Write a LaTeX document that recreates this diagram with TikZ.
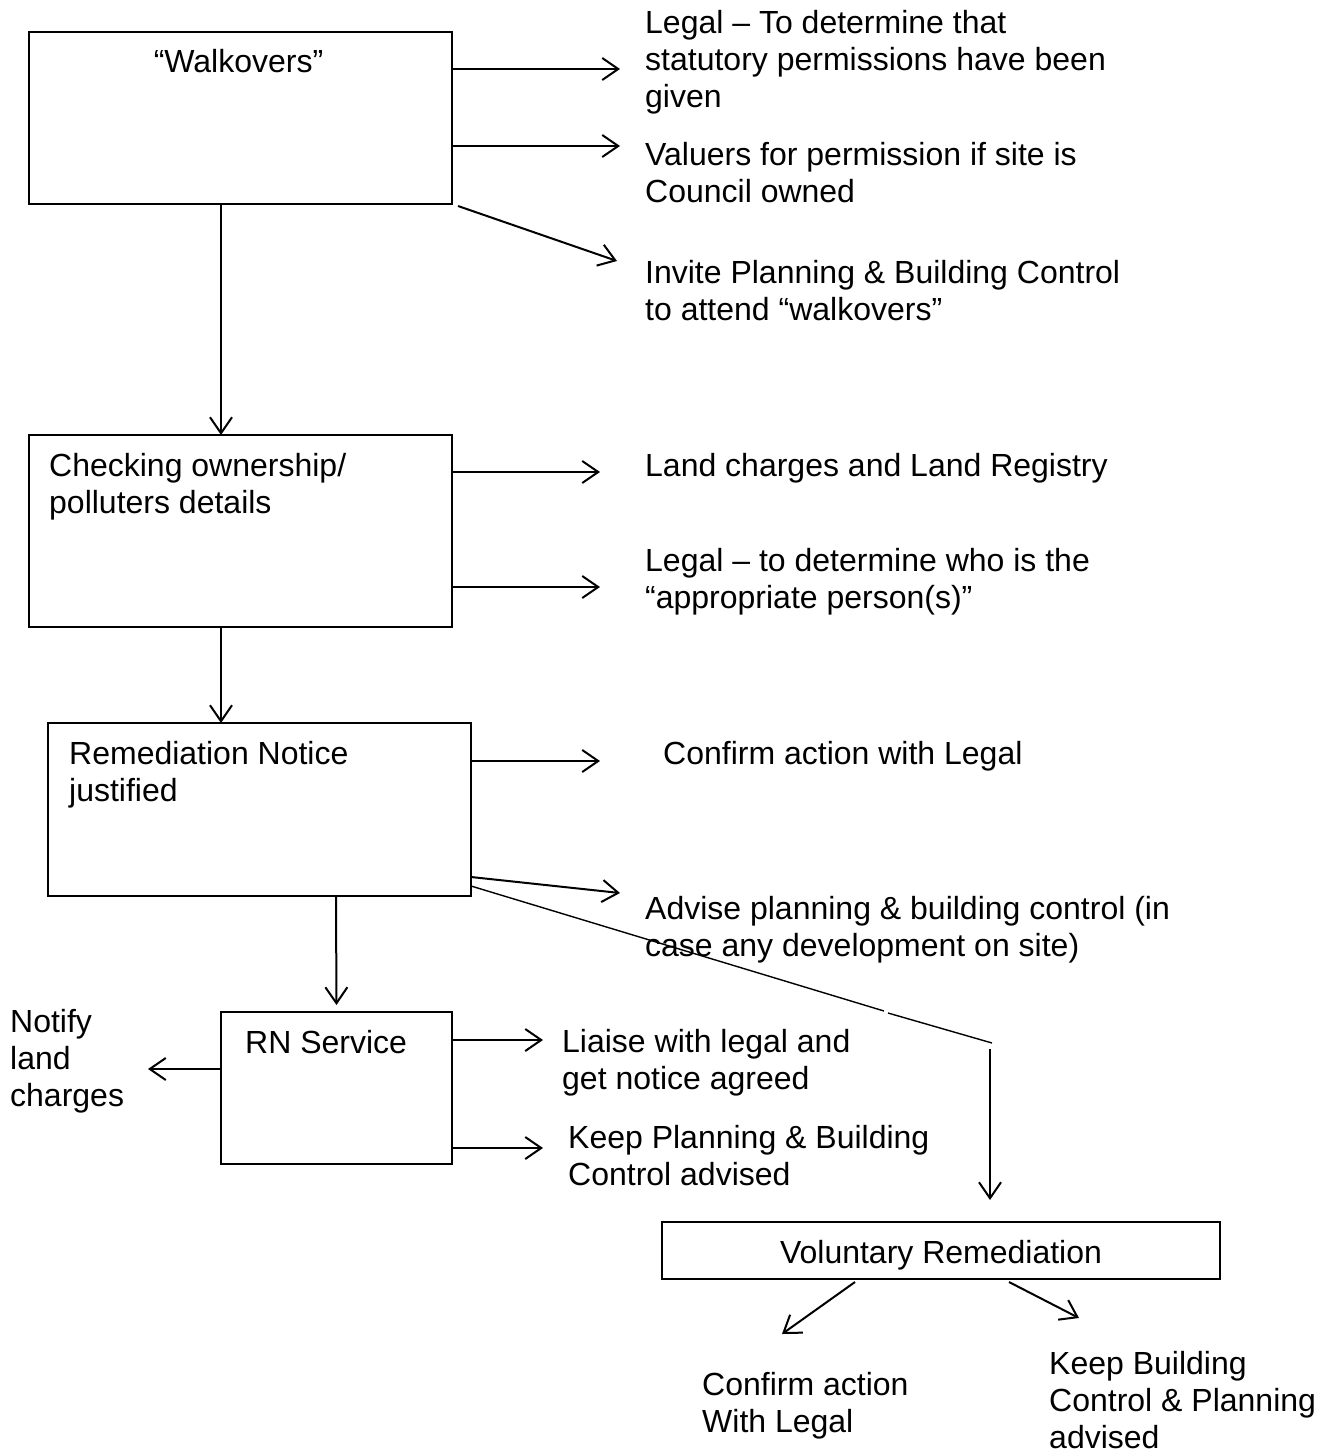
\documentclass[tikz,border=0pt]{standalone}
\usepackage{fontspec}
\setmainfont{Liberation Sans}
\usetikzlibrary{arrows.meta,calc}
\begin{document}
\begin{tikzpicture}[x=1pt,y=-1pt,
  box/.style={draw, line width=2pt, inner sep=0pt, outer sep=0pt},
  arr/.style={line width=2pt, -{Straight Barb[length=16pt,width=22pt,line width=2pt]}},
  txt/.style={anchor=base west, inner sep=0pt, align=left, font=\fontsize{32}{37}\selectfont},
  thinline/.style={line width=1.4pt}]
\useasboundingbox (0,0) rectangle (1333,1454);
\fill[white] (0,0) rectangle (1333,1454);

% boxes
\node[box, minimum width=423pt, minimum height=172pt] (b1) at (240.5,118) {};
\node[box, minimum width=423pt, minimum height=192pt] (b2) at (240.5,531) {};
\node[box, minimum width=423pt, minimum height=173pt] (b3) at (259.5,809.5) {};
\node[box, minimum width=231pt, minimum height=152pt] (b4) at (336.5,1088) {};
\node[box, minimum width=558pt, minimum height=57pt] (b5) at (941,1250.5) {};

% box texts (anchor = baseline of last line)
\node[txt, anchor=base] (w1) at (238.5,72) {“Walkovers”};
\node[txt] (w2) at (49,513) {Checking ownership/\\polluters details};
\node[txt] (w3) at (69,801) {Remediation Notice\\justified};
\node[txt] (w4) at (245,1053) {RN Service};
\node[txt, anchor=base] (w5) at (941,1263) {Voluntary Remediation};

% side texts (anchor = baseline of last line)
\node[txt] (s1) at (645,107) {Legal – To determine that\\statutory permissions have been\\given};
\node[txt] (s2) at (645,202) {Valuers for permission if site is\\Council owned};
\node[txt] (s3) at (645,320) {Invite Planning \& Building Control\\to attend “walkovers”};
\node[txt] (s4) at (645,476) {Land charges and Land Registry};
\node[txt] (s5) at (645,608) {Legal – to determine who is the\\“appropriate person(s)”};
\node[txt] (s6) at (663,764) {Confirm action with Legal};
\node[txt] (s7) at (645,956) {Advise planning \& building control (in\\case any development on site)};
\node[txt] (s8) at (10,1106) {Notify\\land\\charges};
\node[txt] (s9) at (562,1089) {Liaise with legal and\\get notice agreed};
\node[txt] (s10) at (568,1185) {Keep Planning \& Building\\Control advised};
\node[txt] (s11) at (702,1432) {Confirm action\\With Legal};
\node[txt] (s12) at (1049,1448) {Keep Building\\Control \& Planning\\advised};

% arrow targets
\coordinate (t1) at (620,69);
\coordinate (t2) at (620,146);
\coordinate (t3) at (617,261);
\coordinate (t4) at (600,472);
\coordinate (t5) at (600,587);
\coordinate (t6) at (600,761);
\coordinate (t7) at (620,893);
\coordinate (t8) at (543,1040);
\coordinate (t9) at (543,1148);
\coordinate (t10) at (148,1069);
\coordinate (t11) at (782,1334);
\coordinate (t12) at (1079,1318);
\coordinate (d1) at (884,1011);
\coordinate (d2) at (888,1013);
\coordinate (d3) at (992,1043);
\coordinate (d4) at (990,1049);
\coordinate (d5) at (990,1200);

% connectors from box 1
\draw[arr] ([yshift=-37pt]b1.north east) -- (t1);
\draw[arr] ([yshift=-114pt]b1.north east) -- (t2);
\draw[arr] ([xshift=6pt,yshift=-2pt]b1.south east) -- (t3);
\draw[arr] ($(b1.south west)+(192,0)$) -- ($(b2.north west)+(192,0)$);
% box 2
\draw[arr] ([yshift=-37pt]b2.north east) -- (t4);
\draw[arr] ([yshift=-152pt]b2.north east) -- (t5);
\draw[arr] ($(b2.south west)+(192,0)$) -- ($(b3.north west)+(173,0)$);
% box 3
\draw[arr] ([yshift=-38pt]b3.north east) -- (t6);
\draw[arr] ([yshift=-154pt]b3.north east) -- (t7);
\draw[thinline] ([yshift=-163pt]b3.north east) -- (d1);
\draw[thinline] (d2) -- (d3);
\draw[arr] (d4) -- (d5);
\draw[arr, shorten >=7pt] ($(b3.south west)+(288,0)$) -- (b4.north);
% box 4
\draw[arr] ([yshift=-28pt]b4.north east) -- (t8);
\draw[arr] ([yshift=-136pt]b4.north east) -- (t9);
\draw[arr] ([yshift=-57pt]b4.north west) -- (t10);
% box 5
\draw[arr] ($(b5.south west)+(193,3)$) -- (t11);
\draw[arr] ($(b5.south west)+(347,3)$) -- (t12);
\end{tikzpicture}
\end{document}
